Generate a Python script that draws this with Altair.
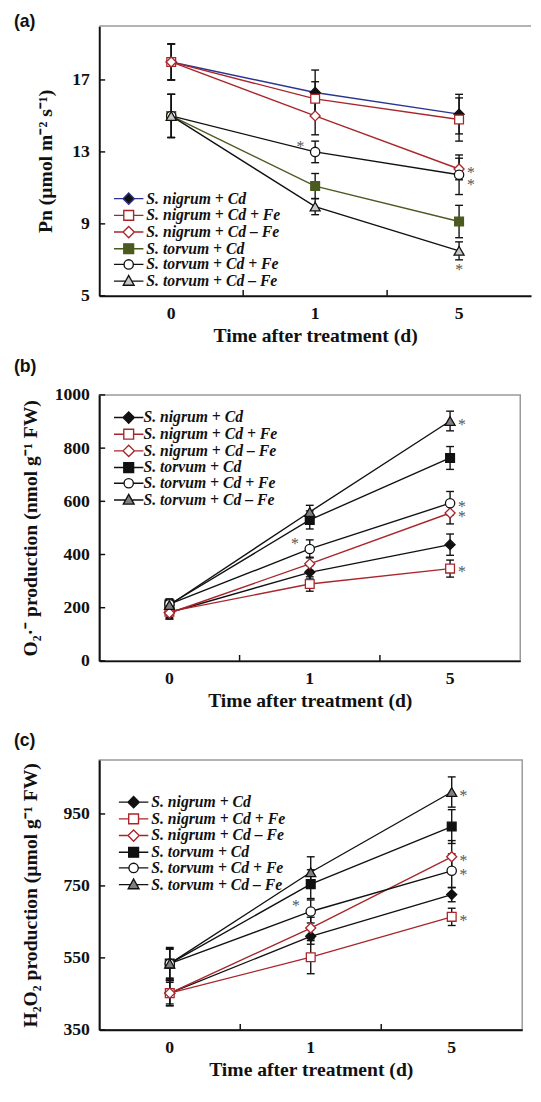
import altair as alt
import pandas as pd

# ---------------- data ----------------
days = ["0", "1", "5"]
series = ["S. nigrum + Cd", "S. nigrum + Cd + Fe", "S. nigrum + Cd – Fe",
          "S. torvum + Cd", "S. torvum + Cd + Fe", "S. torvum + Cd – Fe"]

pn_mean = [[18.0, 16.3, 15.1], [18.0, 15.95, 14.8], [18.0, 15.0, 12.05],
           [15.0, 11.1, 9.13], [15.0, 13.0, 11.73], [15.0, 9.96, 7.5]]
pn_err = [[1.0, 1.25, 1.1], [1.0, 0.95, 1.2], [1.0, 1.05, 0.6],
          [1.2, 0.7, 0.9], [1.2, 0.6, 1.1], [1.2, 0.45, 0.5]]

o2_mean = [[182, 333, 437], [185, 289, 347], [180, 365, 556],
           [212, 530, 763], [213, 421, 593], [210, 560, 902]]
o2_err = [[25, 25, 40], [22, 27, 32], [22, 25, 41],
          [20, 34, 43], [20, 34, 44], [20, 25, 37]]

h2o2_mean = [[452, 610, 726], [452, 552, 664], [452, 633, 831],
             [534, 755, 915], [534, 679, 792], [534, 788, 1011]]
h2o2_err = [[35, 22, 20], [35, 46, 24], [30, 30, 45],
            [45, 40, 47], [40, 32, 47], [42, 43, 42]]

pn_ticks = [5, 9, 13, 17]
o2_ticks = [0, 200, 400, 600, 800, 1000]
h2o2_ticks = [350, 550, 750, 950]

# significance asterisks: (series, day, placement)
stars_a = [("S. torvum + Cd + Fe", "1", "upleft"), ("S. nigrum + Cd – Fe", "5", "right"),
           ("S. torvum + Cd + Fe", "5", "rightlow"), ("S. torvum + Cd – Fe", "5", "below")]
stars_b = [("S. torvum + Cd + Fe", "1", "upleft"), ("S. torvum + Cd – Fe", "5", "right"),
           ("S. torvum + Cd + Fe", "5", "right"), ("S. nigrum + Cd – Fe", "5", "right"),
           ("S. nigrum + Cd + Fe", "5", "right")]
stars_c = [("S. torvum + Cd + Fe", "1", "upleft"), ("S. torvum + Cd – Fe", "5", "right"),
           ("S. nigrum + Cd – Fe", "5", "right"), ("S. torvum + Cd + Fe", "5", "right"),
           ("S. nigrum + Cd + Fe", "5", "right")]

# ---------------- styles ----------------
SERIF = "Liberation Serif"
SANS = "Liberation Sans"
BLACK = "#111111"
RED = "#a8262b"
BLUE = "#2b3591"
OLIVE = "#4b5a1f"
WHITE = "#ffffff"
LGRAY = "#c8c8c8"
MGRAY = "#808080"
FRAME = "#9a9a9a"
STAR = "#555555"

shapes = ["diamond", "square", "diamond", "square", "circle", "triangle-up"]
sizes = [105, 80, 105, 80, 90, 105]
legend_paths = [
    "M-3,0H-1.15M1.15,0H3M0,-1.15L1.15,0L0,1.15L-1.15,0Z",
    "M-3,0H-1M1,0H3M-1,-1H1V1H-1Z",
    "M-3,0H-1.15M1.15,0H3M0,-1.15L1.15,0L0,1.15L-1.15,0Z",
    "M-3,0H-1M1,0H3M-1,-1H1V1H-1Z",
    "M-3,0H-0.95M0.95,0H3M0.95,0A0.95,0.95,0,1,1,-0.95,0A0.95,0.95,0,1,1,0.95,0Z",
    "M-3,0H-0.55M0.55,0H3M0,-1.15L1.1,0.85H-1.1Z",
]

style_a = dict(line=[BLUE, RED, RED, OLIVE, BLACK, BLACK],
               fill=[BLACK, WHITE, WHITE, OLIVE, WHITE, LGRAY],
               stroke=[BLACK, RED, RED, OLIVE, BLACK, BLACK])
style_bc = dict(line=[BLACK, RED, RED, BLACK, BLACK, BLACK],
                fill=[BLACK, WHITE, WHITE, BLACK, WHITE, MGRAY],
                stroke=[BLACK, RED, RED, BLACK, BLACK, BLACK])

star_offsets = {"right": (12, 4), "rightlow": (12, 11), "upleft": (-15, -5), "below": (0, 20)}


def panel(label, means, errs, ydom, yticks, ytitle, W, H, st, leg, stars,
          ytitle_x, open_right=False):
    rows = []
    for s, m, e in zip(series, means, errs):
        for t, v, er in zip(days, m, e):
            rows.append({"series": s, "t": t, "value": v, "lo": v - er, "hi": v + er})
    df = pd.DataFrame(rows)

    xs = alt.Scale(type="band", domain=days, paddingInner=0, paddingOuter=0)
    ys = alt.Scale(domain=ydom, nice=False, zero=False)
    X = alt.X("t:O", scale=xs, axis=alt.Axis(title="Time after treatment (d)", labelAngle=0,
                                              labelPadding=9, titlePadding=4))
    Xp = alt.X("t:O", scale=xs)
    Y = alt.Y("value:Q", scale=ys, axis=alt.Axis(title=ytitle, values=yticks, labelPadding=10,
                                                  titleX=ytitle_x, format="d"))
    Yp = alt.Y("value:Q", scale=ys)

    base = alt.Chart(df)
    layers = []
    for i, s in enumerate(series):
        layers.append(base.transform_filter(alt.datum.series == s).mark_line(
            strokeWidth=1.4, color=st["line"][i]).encode(x=X if i == 0 else Xp,
                                                          y=Y if i == 0 else Yp))
    layers.append(base.mark_rule(color=BLACK, strokeWidth=1.4).encode(
        x=Xp, y=alt.Y("lo:Q", scale=ys), y2="hi:Q"))
    for fld in ["lo", "hi"]:
        layers.append(base.mark_tick(color=BLACK, thickness=1.4, size=8, opacity=1).encode(
            x=Xp, y=alt.Y(f"{fld}:Q", scale=ys)))
    for i, s in enumerate(series):
        layers.append(base.transform_filter(alt.datum.series == s).mark_point(
            shape=shapes[i], filled=True, fill=st["fill"][i], stroke=st["stroke"][i],
            strokeWidth=1.3, size=sizes[i], opacity=1).encode(x=Xp, y=Yp))

    # asterisks
    srows = []
    for s, t, place in stars:
        v = df[(df.series == s) & (df.t == t)]["value"].iloc[0]
        srows.append({"series": s, "t": t, "value": v, "place": place})
    sdf = pd.DataFrame(srows)
    for place, (dx, dy) in star_offsets.items():
        sub = sdf[sdf.place == place]
        if len(sub) == 0:
            continue
        layers.append(alt.Chart(sub).mark_text(
            text="*", font=SERIF, fontSize=16, color=STAR, dx=dx, dy=dy,
            baseline="middle", align="center").encode(x=Xp, y=Yp))

    # inside ticks
    layers.append(alt.Chart(pd.DataFrame({"value": yticks})).mark_rule(
        color=BLACK, strokeWidth=1.5).encode(y=Yp, x=alt.value(0), x2=alt.value(6)))
    layers.append(alt.Chart(pd.DataFrame({"t": days[1:]})).mark_rule(
        color=BLACK, strokeWidth=1.5).encode(
        x=alt.X("t:O", scale=xs, bandPosition=0), y=alt.value(H), y2=alt.value(H - 6)))

    if open_right:
        layers.append(alt.Chart(pd.DataFrame({"t": ["0"]})).mark_rule(
            color=FRAME, strokeWidth=1.5).encode(
            x=alt.value(0), x2=alt.value(W), y=alt.value(0)))

    # legend layer: invisible points at the day-0 values, legend only
    lg = dict(orient="none", legendX=leg[0], legendY=leg[1], title=None,
              symbolSize=100, symbolStrokeWidth=1.4, symbolFillColor=WHITE,
              symbolStrokeColor=BLACK, labelFont=SERIF, labelFontSize=16,
              labelFontStyle="italic", labelFontWeight="bold", labelColor=BLACK,
              labelOffset=leg[2], rowPadding=0, padding=0, labelLimit=300)
    layers.append(base.transform_filter(alt.datum.t == "0").mark_point(
        opacity=0, filled=True).encode(
        x=Xp, y=Yp,
        shape=alt.Shape("series:N", scale=alt.Scale(domain=series, range=legend_paths),
                        legend=alt.Legend(**lg)),
        fill=alt.Fill("series:N", scale=alt.Scale(domain=series, range=st["fill"]),
                      legend=alt.Legend(**lg)),
        stroke=alt.Stroke("series:N", scale=alt.Scale(domain=series, range=st["line"]),
                          legend=alt.Legend(**lg))))

    props = dict(width=W, height=H)
    if open_right:
        # panel letter as an annotation (keeps the panel flush with the page top)
        layers.append(alt.Chart(pd.DataFrame({"t": ["0"]})).mark_text(
            text=label, font=SANS, fontSize=18, fontWeight="bold", color=BLACK,
            align="left", baseline="middle").encode(x=alt.value(-87), y=alt.value(-4)))
        props["view"] = alt.ViewBackground(stroke="transparent")
    else:
        props["title"] = alt.TitleParams(text=label, anchor="start", frame="group", font=SANS,
                                         fontSize=18, fontWeight="bold", color=BLACK, dx=-87,
                                         offset=10)
    return alt.layer(*layers).properties(**props)


pa = panel("(a)", pn_mean, pn_err, [5, 20], pn_ticks, "Pn (µmol m⁻² s⁻¹)",
           440, 275, style_a, (22, 168, 10), stars_a, -45, open_right=True)
pb = panel("(b)", o2_mean, o2_err, [0, 1000], o2_ticks, "O₂·⁻ production (nmol g⁻¹ FW)",
           429, 271, style_bc, (22, 15, 7), stars_b, -60)
pc = panel("(c)", h2o2_mean, h2o2_err, [350, 1100], h2o2_ticks, "H₂O₂ production (µmol g⁻¹ FW)",
           431, 275, style_bc, (27, 35, 10), stars_c, -60)

chart = alt.vconcat(pa, pb, pc, spacing=101, bounds="flush").resolve_scale(
    shape="independent", fill="independent", stroke="independent"
).configure_view(stroke=FRAME, strokeWidth=1.5).configure_axis(
    labelFont=SERIF, labelFontSize=18, labelFontWeight="bold", labelColor=BLACK,
    titleFont=SERIF, titleFontSize=20, titleFontWeight="bold", titleColor=BLACK,
    domainColor=BLACK, domainWidth=2, ticks=False, grid=False
).properties(padding={"left": 5, "top": -6, "right": 0, "bottom": 0})

chart.save("out.html", embed_options={"renderer": "svg", "actions": False})
